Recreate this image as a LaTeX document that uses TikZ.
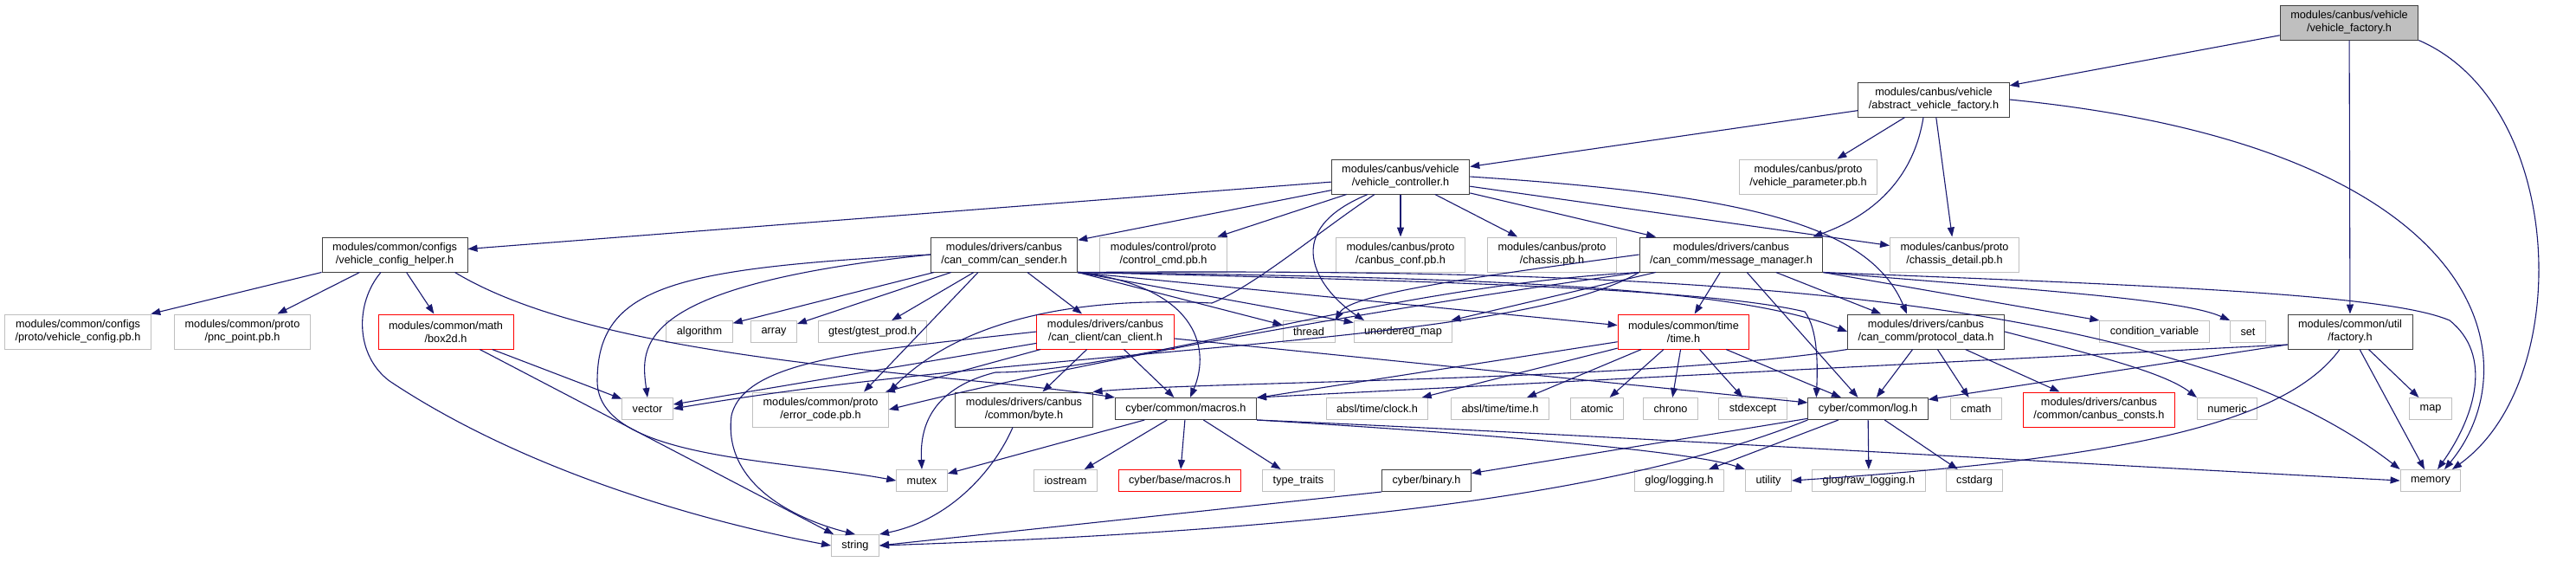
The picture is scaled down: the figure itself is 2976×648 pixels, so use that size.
\documentclass[tikz,border=0pt]{standalone}
\usepackage{fontspec}
\setmainfont{Liberation Sans}
\usetikzlibrary{arrows.meta}
\definecolor{edgeblue}{HTML}{191970}
\definecolor{boxgray}{HTML}{BFBFBF}
\definecolor{boxdark}{HTML}{404040}

\begin{document}
\begin{tikzpicture}[x=1pt, y=-1pt, >={Triangle[length=11pt,width=8pt]},
    incfile/.style={rectangle, inner xsep=12pt, inner ysep=2pt, minimum height=25pt, align=center, line width=1pt, font=\fontsize{12.7}{15}\selectfont},
    hdr/.style={incfile, draw=boxdark},
    ext/.style={incfile, draw=boxgray},
    trunc/.style={incfile, draw=red},
    root/.style={incfile, draw=boxdark, fill=boxgray},
    tall/.style={minimum height=40pt},
    dep/.style={->, draw=edgeblue, line width=1.1pt}]
            \useasboundingbox (0,0) rectangle (2976,648);
            \fill[white] (0,0) rectangle (2976,648);
            \node[root, tall]  (vf)      at (2714,26)  {modules/canbus/vehicle\\/vehicle\_factory.h};
            \node[hdr, tall]   (avf)     at (2234,115) {modules/canbus/vehicle\\/abstract\_vehicle\_factory.h};
            \node[hdr, tall]   (vc)      at (1618,204) {modules/canbus/vehicle\\/vehicle\_controller.h};
            \node[ext, tall]   (vparam)  at (2089,204) {modules/canbus/proto\\/vehicle\_parameter.pb.h};
            \node[hdr, tall]   (vch)     at (456,294)  {modules/common/configs\\/vehicle\_config\_helper.h};
            \node[hdr, tall]   (cs)      at (1160,294) {modules/drivers/canbus\\/can\_comm/can\_sender.h};
            \node[ext, tall]   (ccmd)    at (1344,294) {modules/control/proto\\/control\_cmd.pb.h};
            \node[ext, tall]   (cconf)   at (1618,294) {modules/canbus/proto\\/canbus\_conf.pb.h};
            \node[ext, tall]   (chassis) at (1793,294) {modules/canbus/proto\\/chassis.pb.h};
            \node[hdr, tall]   (mm)      at (2000,294) {modules/drivers/canbus\\/can\_comm/message\_manager.h};
            \node[ext, tall]   (cdetail) at (2258,294) {modules/canbus/proto\\/chassis\_detail.pb.h};
            \node[ext, tall]   (vcfg)    at (90,383)   {modules/common/configs\\/proto/vehicle\_config.pb.h};
            \node[ext, tall]   (pnc)     at (280,383)  {modules/common/proto\\/pnc\_point.pb.h};
            \node[trunc, tall] (box)     at (515,383)  {modules/common/math\\/box2d.h};
            \node[ext]         (algo)    at (808,383)  {algorithm};
            \node[ext]         (arr)     at (894,383)  {array};
            \node[ext]         (gtest)   at (1008,383) {gtest/gtest\_prod.h};
            \node[trunc, tall] (cc)      at (1277,383) {modules/drivers/canbus\\/can\_client/can\_client.h};
            \node[ext]         (thr)     at (1512,383) {thread};
            \node[ext]         (umap)    at (1621,383) {unordered\_map};
            \node[trunc, tall] (time)    at (1945,383) {modules/common/time\\/time.h};
            \node[hdr, tall]   (pd)      at (2225,383) {modules/drivers/canbus\\/can\_comm/protocol\_data.h};
            \node[ext]         (cvar)    at (2489,383) {condition\_variable};
            \node[ext]         (set)     at (2597,383) {set};
            \node[hdr, tall]   (fac)     at (2715,383) {modules/common/util\\/factory.h};
            \node[ext]         (vec)     at (748,472)  {vector};
            \node[ext, tall]   (ecode)   at (948,473)  {modules/common/proto\\/error\_code.pb.h};
            \node[hdr, tall]   (byte)    at (1183,473) {modules/drivers/canbus\\/common/byte.h};
            \node[hdr]         (cmac)    at (1370,472) {cyber/common/macros.h};
            \node[ext]         (clock)   at (1591,472) {absl/time/clock.h};
            \node[ext]         (atime)   at (1733,472) {absl/time/time.h};
            \node[ext]         (atom)    at (1845,472) {atomic};
            \node[ext]         (chrono)  at (1930,472) {chrono};
            \node[ext]         (stdex)   at (2025,472) {stdexcept};
            \node[hdr]         (log)     at (2158,472) {cyber/common/log.h};
            \node[ext]         (cmath)   at (2283,472) {cmath};
            \node[trunc, tall] (consts)  at (2425,473) {modules/drivers/canbus\\/common/canbus\_consts.h};
            \node[ext]         (numeric) at (2573,472) {numeric};
            \node[ext]         (map)     at (2808,472) {map};
            \node[ext]         (mutex)   at (1065,555) {mutex};
            \node[ext]         (iostr)   at (1231,555) {iostream};
            \node[trunc]       (bmac)    at (1363,555) {cyber/base/macros.h};
            \node[ext]         (ttraits) at (1500,555) {type\_traits};
            \node[hdr]         (bin)     at (1648,555) {cyber/binary.h};
            \node[ext]         (glog)    at (1940,555) {glog/logging.h};
            \node[ext]         (util)    at (2043,555) {utility};
            \node[ext]         (raw)     at (2159,555) {glog/raw\_logging.h};
            \node[ext]         (cstd)    at (2281,555) {cstdarg};
            \node[ext]         (mem)     at (2808,555) {memory};
            \node[ext]         (str)     at (988,630)  {string};
            \draw[dep] (vf) -- (avf);
            \draw[dep] (vf) -- (fac);
            \draw[dep] (vf.south east) .. controls (2965,120) and (2975,440) .. ([xshift=25pt]mem.north);
            \draw[dep] (avf) -- (vc);
            \draw[dep] (avf) -- (vparam);
            \draw[dep] ([xshift=-12pt]avf.south) .. controls (2210,210) and (2160,250) .. ([xshift=-12pt]mm.north east);
            \draw[dep] (avf) -- (cdetail);
            \draw[dep] (avf.east) .. controls (2880,170) and (2925,420) .. ([xshift=16pt]mem.north);
            \draw[dep] (vc) -- (vch);
            \draw[dep] (vc) -- (cs);
            \draw[dep] (vc) -- (ccmd);
            \draw[dep] (vc) -- (cconf);
            \draw[dep] (vc) -- (chassis);
            \draw[dep] (vc) -- (mm);
            \draw[dep] (vc) -- (cdetail);
            \draw[dep] (vc.east) .. controls (2020,225) and (2160,260) .. ([xshift=-22pt]pd.north);
            \draw[dep] ([xshift=-38pt]vc.south) .. controls (1470,270) and (1530,340) .. ([xshift=-45pt]umap.north);
            \draw[dep] ([xshift=-30pt]vc.south) .. controls (1520,270) and (1450,330) .. (1400,350) .. controls (1300,345) and (1130,350) .. (ecode.north east);
            \draw[dep] (vch) -- (vcfg);
            \draw[dep] (vch) -- (pnc);
            \draw[dep] (vch) -- (box);
            \draw[dep] ([xshift=-16pt]vch.south) .. controls (410,350) and (410,410) .. (450,440) .. controls (600,540) and (800,600) .. (str.west);
            \draw[dep] ([xshift=-15pt]vch.south east) .. controls (700,420) and (1100,430) .. (cmac.north west);
            \draw[dep] (box) -- (vec);
            \draw[dep] (box) -- (str);
            \draw[dep] (cs) -- (algo);
            \draw[dep] (cs) -- (arr);
            \draw[dep] (cs) -- (gtest);
            \draw[dep] (cs) -- (cc);
            \draw[dep] (cs.south east) -- (thr);
            \draw[dep] (cs.south east) -- (umap);
            \draw[dep] (cs.west) .. controls (730,330) and (740,400) .. (vec.north);
            \draw[dep] (cs.west) .. controls (780,310) and (690,330) .. (690,440) .. controls (690,530) and (900,530) .. (mutex.west);
            \draw[dep] ([xshift=-30pt]cs.south) -- ([xshift=50pt]ecode.north);
            \draw[dep] (cs.south east) .. controls (1380,330) and (1400,400) .. ([xshift=5pt]cmac.north);
            \draw[dep] (cs.south east) -- (time);
            \draw[dep] (cs.south east) .. controls (1700,320) and (2000,330) .. (pd.west);
            \draw[dep] (cs.south east) .. controls (1700,325) and (1980,335) .. (2085,360) .. controls (2100,380) and (2100,420) .. ([xshift=10pt]log.north west);
            \draw[dep] (cs.south east) .. controls (1900,310) and (2500,330) .. (mem.north west);
            \draw[dep] (cc) -- (byte);
            \draw[dep] (cc) -- (ecode);
            \draw[dep] (cc) -- (vec);
            \draw[dep] (cc.west) .. controls (1000,405) and (860,415) .. (845,480) .. controls (835,560) and (920,600) .. (str.north);
            \draw[dep] (cc) -- (cmac);
            \draw[dep] (cc) -- (log);
            \draw[dep] (mm.west) .. controls (1700,320) and (1560,340) .. (thr.north east);
            \draw[dep] (mm) -- (umap);
            \draw[dep] (mm.south west) .. controls (1750,400) and (1200,400) .. (vec.east);
            \draw[dep] (mm.south east) .. controls (2350,335) and (2520,345) .. (set.north west);
            \draw[dep] (mm.south east) -- (cvar.north west);
            \draw[dep] (mm.south east) .. controls (2500,330) and (2760,340) .. (2830,370) .. controls (2880,410) and (2860,480) .. ([xshift=8pt]mem.north);
            \draw[dep] (mm.south west) .. controls (1600,330) and (1300,430) .. (1150,430) .. controls (1070,450) and (1063,500) .. (mutex.north);
            \draw[dep] (mm.south west) .. controls (1500,370) and (1200,430) .. (ecode.east);
            \draw[dep] (mm) -- (log);
            \draw[dep] (mm) -- (time);
            \draw[dep] (mm) -- (pd);
            \draw[dep] (time) -- (clock);
            \draw[dep] (time) -- (atime);
            \draw[dep] (time) -- (atom);
            \draw[dep] (time) -- (chrono);
            \draw[dep] (time) -- (stdex);
            \draw[dep] (time) -- (log);
            \draw[dep] (time) -- (cmac);
            \draw[dep] (pd) -- (log);
            \draw[dep] (pd) -- (cmath);
            \draw[dep] (pd) -- (consts);
            \draw[dep] (pd.east) .. controls (2420,410) and (2500,430) .. (numeric.north west);
            \draw[dep] (pd.south west) .. controls (1900,440) and (1400,440) .. (byte.north east);
            \draw[dep] (log) -- (glog);
            \draw[dep] (log) -- (raw);
            \draw[dep] (log) -- (cstd);
            \draw[dep] (log) -- (bin);
            \draw[dep] (log.south west) .. controls (1900,560) and (1600,610) .. (str.east);
            \draw[dep] (bin.south west) -- (str.east);
            \draw[dep] ([xshift=-13pt]byte.south) .. controls (1150,540) and (1100,600) .. (str.north east);
            \draw[dep] (cmac) -- (iostr);
            \draw[dep] (cmac) -- (bmac);
            \draw[dep] (cmac) -- (ttraits);
            \draw[dep] (cmac) -- (mutex);
            \draw[dep] (cmac.south east) .. controls (1700,500) and (1950,520) .. (util.north west);
            \draw[dep] (cmac.south east) .. controls (1800,500) and (2300,530) .. (mem.west);
            \draw[dep] (fac) -- (map);
            \draw[dep] (fac) -- (mem);
            \draw[dep] ([xshift=-12pt]fac.south) .. controls (2640,490) and (2450,530) .. (util.east);
            \draw[dep] ([yshift=-15pt]fac.west) -- (log);
            \draw[dep] ([yshift=-15pt]fac.west) -- (cmac.north east);
        \end{tikzpicture}
\end{document}
